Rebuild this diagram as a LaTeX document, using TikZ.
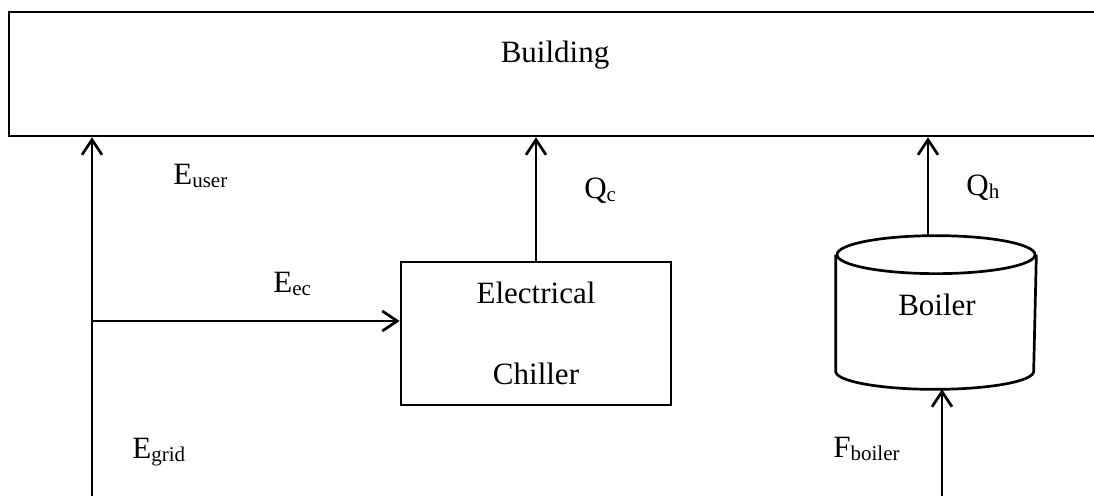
\documentclass[tikz,border=0pt]{standalone}
\usepackage{fontspec}
\setmainfont{Liberation Serif}
\usetikzlibrary{arrows.meta,calc}
\newcommand{\lowsub}[1]{\raisebox{-3pt}{\fontsize{21}{21}\selectfont #1}}
\begin{document}
\begin{tikzpicture}[x=1pt,y=1pt,
  line width=2.7pt,
  every node/.style={font=\fontsize{31}{31}\selectfont},
  boxstyle/.style={draw, rectangle, inner sep=0pt},
  txt/.style={inner sep=0pt, anchor=base west},
  flow/.style={-{Straight Barb[length=15pt,width=20pt]}}]
\useasboundingbox (0,0) rectangle (1094,496);
\clip (0,0) rectangle (1094,496);
% Building
\node[boxstyle, minimum width=1101pt, minimum height=124pt] (building) at (559.5,422) {};
\node[inner sep=0pt, anchor=base] (buildingtext) at (555,433) {Building};
% Electrical chiller
\node[boxstyle, minimum width=270pt, minimum height=143pt, align=center,
  font=\fontsize{31}{81}\selectfont] (chiller) at (536,162.5) {Electrical\\Chiller};
% Boiler
\node[inner sep=0pt, minimum width=198pt, minimum height=151pt] (boiler) at (936,183.5) {};
\node[inner sep=0pt, anchor=base] (boilertext) at (937,181) {Boiler};
\draw ($(boiler.north)+(0,-19)$) ellipse [x radius=99, y radius=19];
\draw ($(boiler.north west)+(0,-19)$) -- ($(boiler.south west)+(0,18)$)
  arc[start angle=180, end angle=360, x radius=99, y radius=18]
  -- ($(boiler.north east)+(0,-19)$);
% Connectors
\coordinate (gridin) at (92,0);
\coordinate (junction) at (92,175);
\coordinate (qhstart) at ($(boiler.north)+(-8,0)$);
\coordinate (fuelin) at (942,0);
\draw[flow] (gridin) -- (gridin |- building.south);
\draw[flow] (junction) -- (junction -| chiller.west);
\draw[flow] (chiller.north) -- (chiller.north |- building.south);
\draw[flow] (qhstart) -- (qhstart |- building.south);
\draw[flow] (fuelin) -- (fuelin |- boiler.south);
% Labels
\node[txt] (euser) at (172,311) {E\lowsub{user}};
\node[txt] (qc) at (583,298) {Q\lowsub{c}};
\node[txt] (qh) at (965,300) {Q\lowsub{h}};
\node[txt] (eec) at (272,204) {E\lowsub{ec}};
\node[txt] (egrid) at (131,38) {E\lowsub{grid}};
\node[txt] (fboiler) at (832,39) {F\lowsub{boiler}};
\end{tikzpicture}
\end{document}
